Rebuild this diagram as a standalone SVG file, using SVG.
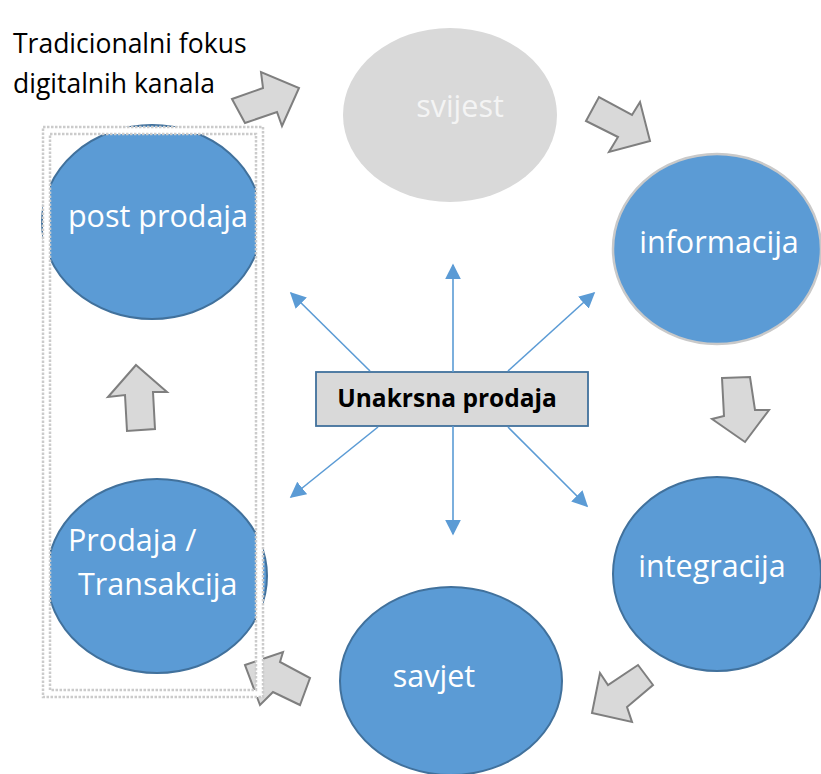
<svg xmlns="http://www.w3.org/2000/svg" width="821" height="774" viewBox="0 0 821 774">
<defs>
<style>
.blue{fill:#5b9bd5;stroke:#41719c;stroke-width:2}
.lbl{font-family:"Open Sans","Liberation Sans",sans-serif;font-size:30.5px;fill:#ffffff}
.blk{font-family:"Open Sans","Liberation Sans",sans-serif;font-size:26.5px;fill:#000000}
.barrow{fill:#d9d9d9;stroke:#7f7f7f;stroke-width:2;stroke-linejoin:miter}
.ray{stroke:#5b9bd5;stroke-width:1.6;fill:none;marker-end:url(#ah)}
.dot{fill:none;stroke:#cbcbcb;stroke-width:2.5;stroke-dasharray:2.5 1.5}
</style>
<marker id="ah" viewBox="0 0 10 10" refX="9" refY="5" markerWidth="16" markerHeight="16" markerUnits="userSpaceOnUse" orient="auto">
<path d="M0,0 L10,5 L0,10 z" fill="#5b9bd5"/>
</marker>
</defs>
<rect width="821" height="774" fill="#ffffff"/>

<g id="caption">
<text class="blk" x="13" y="53">Tradicionalni fokus</text>
<text class="blk" x="13" y="93">digitalnih kanala</text>
</g>

<g id="svijest">
<ellipse cx="450" cy="115" rx="107" ry="87" fill="#d9d9d9"/>
<text class="lbl" x="460" y="117" text-anchor="middle" style="fill:#f4f4f4">svijest</text>
</g>

<g id="informacija">
<ellipse cx="717" cy="249" rx="104" ry="95" fill="#5b9bd5" stroke="#c9c9c9" stroke-width="2.5"/>
<text class="lbl" x="719" y="253" text-anchor="middle">informacija</text>
</g>

<g id="integracija">
<ellipse class="blue" cx="717" cy="574" rx="104" ry="97"/>
<text class="lbl" x="712" y="577" text-anchor="middle">integracija</text>
</g>

<g id="savjet">
<ellipse class="blue" cx="451" cy="681" rx="111" ry="94"/>
<text class="lbl" x="434" y="687" text-anchor="middle">savjet</text>
</g>

<g id="post-prodaja">
<ellipse class="blue" cx="152" cy="222" rx="110" ry="97"/>
<text class="lbl" x="158" y="227" text-anchor="middle">post prodaja</text>
</g>

<g id="prodaja-transakcija">
<ellipse class="blue" cx="157" cy="576" rx="110" ry="97"/>
<text class="lbl" x="68" y="551">Prodaja /</text>
<text class="lbl" x="78" y="595">Transakcija</text>
</g>

<g id="unakrsna-prodaja">
<rect x="316" y="372" width="272" height="54" fill="#d9d9d9" stroke="#41719c" stroke-width="1.8"/>
<text x="447" y="407" text-anchor="middle" font-family="'Open Sans','Liberation Sans',sans-serif" font-weight="bold" font-size="24.5" fill="#000000">Unakrsna prodaja</text>
</g>

<g id="connectors">
<line class="ray" x1="453" y1="372" x2="453" y2="265"/>
<line class="ray" x1="453" y1="426" x2="453" y2="534"/>
<line class="ray" x1="370" y1="371" x2="291" y2="293"/>
<line class="ray" x1="508" y1="371" x2="594" y2="293"/>
<line class="ray" x1="378" y1="427" x2="291" y2="497"/>
<line class="ray" x1="508" y1="427" x2="587" y2="506"/>
<polygon class="barrow" points="232,99 263,88 261,72 299,88 282,126 277,112 245,123"/>
<polygon class="barrow" points="586,121 599,97 632,115 640,102 650,141 609,152 618,137"/>
<polygon class="barrow" points="722,378 750,377 755,410 769,410 745,442 712,419 724,416"/>
<polygon class="barrow" points="638,665 653,685 627,707 632,722 592,713 600,673 608,685"/>
<polygon class="barrow" points="245,665 283,652 280,662 310,678 300,705 273,692 260,705"/>
<polygon class="barrow" points="136,365 167,392 153,392 155,429 127,431 125,395 108,397"/>
</g>

<g id="focus-frame">
<rect x="46.5" y="130.5" width="213" height="563" fill="none" stroke="#ffffff" stroke-width="7"/>
<rect class="dot" x="43" y="127" width="220" height="570"/>
<rect class="dot" x="50" y="134" width="206" height="556"/>
</g>
</svg>
